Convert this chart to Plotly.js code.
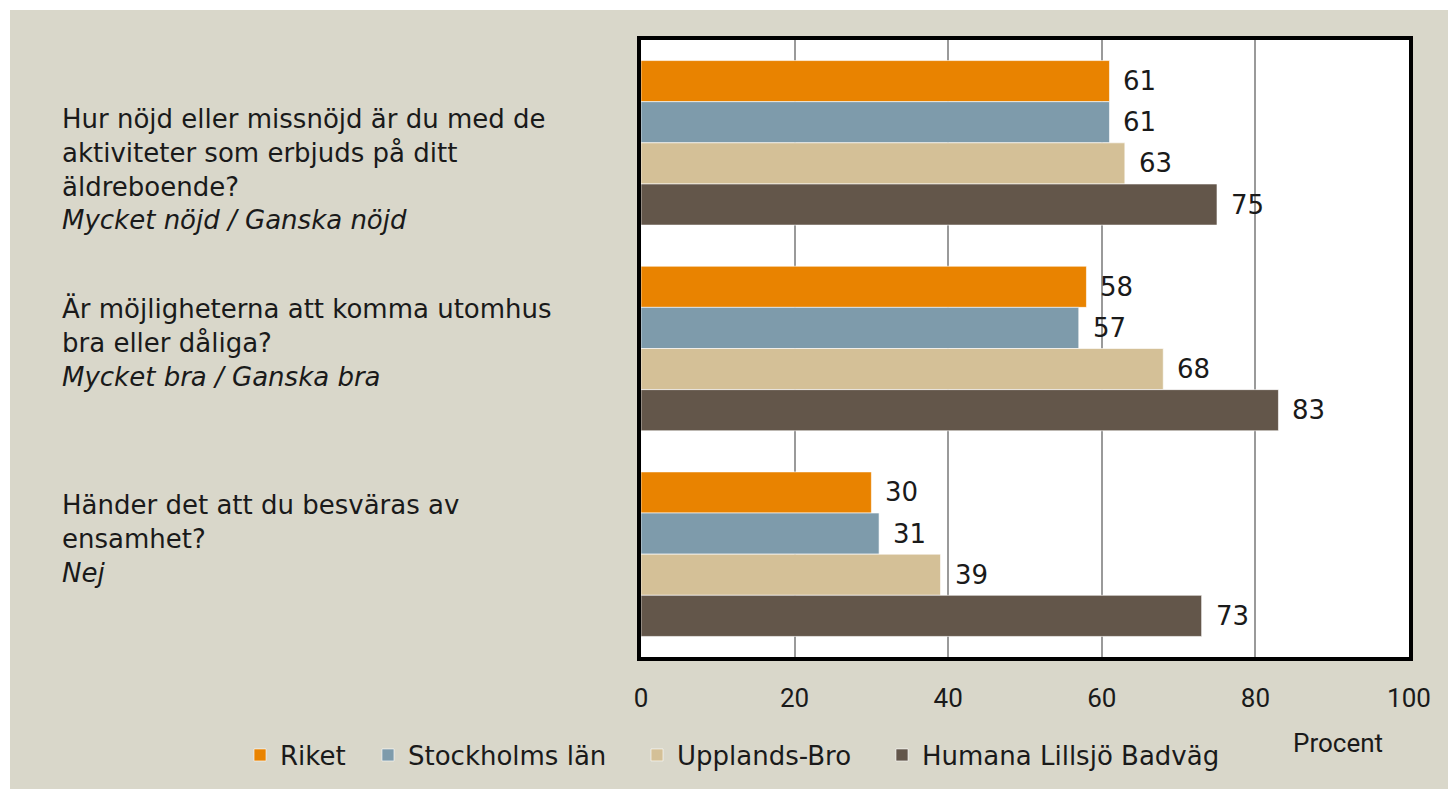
<!DOCTYPE html>
<html><head><meta charset="utf-8">
<script src="https://cdn.plot.ly/plotly-3.0.1.min.js"></script>
<style>html,body{margin:0;padding:0;background:#fff;}#chart{position:absolute;left:10px;top:10px;width:1438px;height:779px;}</style>
</head><body><div id="chart"></div>
<script>
const categories = ["q1", "q2", "q3"];
const questionLabels = [
  "Hur nöjd eller missnöjd är du med de<br>aktiviteter som erbjuds på ditt<br>äldreboende?<br><i>Mycket nöjd / Ganska nöjd</i>",
  "Är möjligheterna att komma utomhus<br>bra eller dåliga?<br><i>Mycket bra / Ganska bra</i>",
  "Händer det att du besväras av<br>ensamhet?<br><i>Nej</i>"
];
const seriesNames = ["Riket", "Stockholms län", "Upplands-Bro", "Humana Lillsjö Badväg"];
const riket = [61, 58, 30];
const stockholm = [61, 57, 31];
const upplandsBro = [63, 68, 39];
const humana = [75, 83, 73];
const xTicks = [0, 20, 40, 60, 80, 100];

const seriesValues = [riket, stockholm, upplandsBro, humana];
const colors = ["#E98300", "#7E9BAB", "#D4C097", "#63564A"];
const labelFont = "'DejaVu Sans', sans-serif";
const narrowFont = "'Liberation Sans Narrow', 'Roboto', sans-serif";
const legendIds = ["legend", "legend2", "legend3", "legend4"];
const legendX = [-0.5221, -0.3555, -0.0052, 0.3138];

const traces = seriesValues.map((vals, i) => ({
  type: "bar",
  orientation: "h",
  name: seriesNames[i],
  x: vals,
  y: categories,
  legend: legendIds[i],
  marker: {color: colors[i], line: {color: "rgba(255,255,255,0.6)", width: 1}},
  hoverinfo: "x+name"
}));

const annotations = [];
const bargap = 0.2;
const nS = seriesValues.length;
const bw = (1 - bargap) / nS;
seriesValues.forEach((vals, i) => {
  vals.forEach((v, j) => {
    annotations.push({
      x: v, y: j - (1 - bargap) / 2 + bw * (i + 0.5),
      xref: "x", yref: "y",
      text: String(v), showarrow: false,
      xanchor: "left", yanchor: "middle", xshift: 12,
      font: {family: labelFont, size: 26, color: "#1a1a1a"}
    });
  });
});
const qY = [0.7896, 0.5097, 0.1909];
questionLabels.forEach((t, j) => {
  annotations.push({
    x: -0.7565, y: qY[j], xref: "paper", yref: "paper",
    text: t, showarrow: false, align: "left",
    xanchor: "left", yanchor: "middle",
    font: {family: labelFont, size: 26, color: "#1a1a1a"}
  });
});
annotations.push({
  x: 0.9076, y: -0.139, xref: "paper", yref: "paper",
  text: "Procent", showarrow: false, xanchor: "center", yanchor: "middle",
  font: {family: narrowFont, size: 26, color: "#1a1a1a"}
});

const layout = {
  width: 1438, height: 779,
  margin: {l: 631, r: 39, t: 30, b: 131},
  paper_bgcolor: "#D9D7CA",
  plot_bgcolor: "#FFFFFF",
  barmode: "group",
  bargap: bargap,
  bargroupgap: 0,
  showlegend: true,
  xaxis: {
    range: [0, 100], tickvals: xTicks, ticktext: xTicks.map(String),
    showgrid: true, gridcolor: "#9a9a9a", gridwidth: 2,
    zeroline: false, showline: true, linecolor: "#000", linewidth: 4, mirror: true,
    ticks: "", ticklabelstandoff: 15,
    tickfont: {family: narrowFont, size: 26, color: "#1a1a1a"}
  },
  yaxis: {
    type: "category", autorange: "reversed", showticklabels: false,
    showgrid: false, zeroline: false, showline: true, linecolor: "#000", linewidth: 4, mirror: true,
    ticks: ""
  },
  annotations: annotations
};
legendIds.forEach((id, i) => {
  layout[id] = {
    orientation: "h", x: legendX[i], y: -0.157, xanchor: "left", yanchor: "middle",
    font: {family: labelFont, size: 26, color: "#1a1a1a"},
    bgcolor: "rgba(0,0,0,0)"
  };
});
Plotly.newPlot("chart", traces, layout, {displayModeBar: false, staticPlot: true});
</script></body></html>
